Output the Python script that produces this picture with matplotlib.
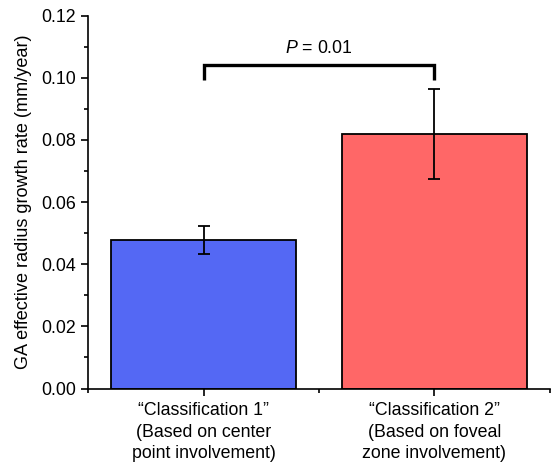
import numpy as np
import matplotlib.pyplot as plt
from matplotlib.ticker import MultipleLocator

plt.rcParams['font.family'] = ['Liberation Sans', 'DejaVu Sans']
plt.rcParams['mathtext.fontset'] = 'custom'
plt.rcParams['mathtext.it'] = 'Liberation Sans:italic'
plt.rcParams['mathtext.rm'] = 'Liberation Sans'

# Data
categories = ["\u201cClassification 1\u201d\n(Based on center\npoint involvement)",
              "\u201cClassification 2\u201d\n(Based on foveal\nzone involvement)"]
rates = [0.0478, 0.0819]
errors = [0.0046, 0.0145]
colors = ["#5468F4", "#FF6767"]
p_label = "$\\it{P}$ = 0.01"

fig = plt.figure(figsize=(5.51, 4.62), dpi=100)
ax = fig.add_axes([0.160, 0.159, 0.838, 0.807])

x = np.arange(len(categories))
ax.bar(x, rates, width=0.8, color=colors, edgecolor="black", linewidth=1.3, zorder=2)
ax.errorbar(x, rates, yerr=errors, fmt="none", ecolor="black", elinewidth=1.3,
            capsize=4, capthick=1.3, zorder=3)

# significance bracket
top = 0.1042
ax.plot([0, 0, 1, 1], [top - 0.0048, top, top, top - 0.0048], color="black",
        linewidth=2.4, solid_capstyle="butt", solid_joinstyle="miter", zorder=3)
ax.text(0.5, top + 0.0025, p_label, ha="center", va="bottom", fontsize=12.8)

ax.set_xlim(-0.5, 1.5)
ax.set_ylim(0, 0.12)
ax.set_xticks(x)
ax.set_xticklabels(categories, fontsize=13.6, linespacing=1.32)
ax.xaxis.set_minor_locator(MultipleLocator(1.0, offset=0.5))
ax.yaxis.set_major_locator(MultipleLocator(0.02))
ax.yaxis.set_minor_locator(MultipleLocator(0.01))
ax.yaxis.set_major_formatter(plt.FormatStrFormatter("%.2f"))
ax.set_ylabel("GA effective radius growth rate (mm/year)", fontsize=13.1, labelpad=7)

ax.tick_params(axis="both", which="major", direction="out", length=5, width=1.2,
               labelsize=12.8)
ax.tick_params(axis="both", which="minor", direction="out", length=3, width=1.2)
ax.tick_params(axis="x", which="major", pad=5)

for side in ["top", "right"]:
    ax.spines[side].set_visible(False)
for side in ["left", "bottom"]:
    ax.spines[side].set_linewidth(1.2)

fig.savefig("out.png", dpi=100)
